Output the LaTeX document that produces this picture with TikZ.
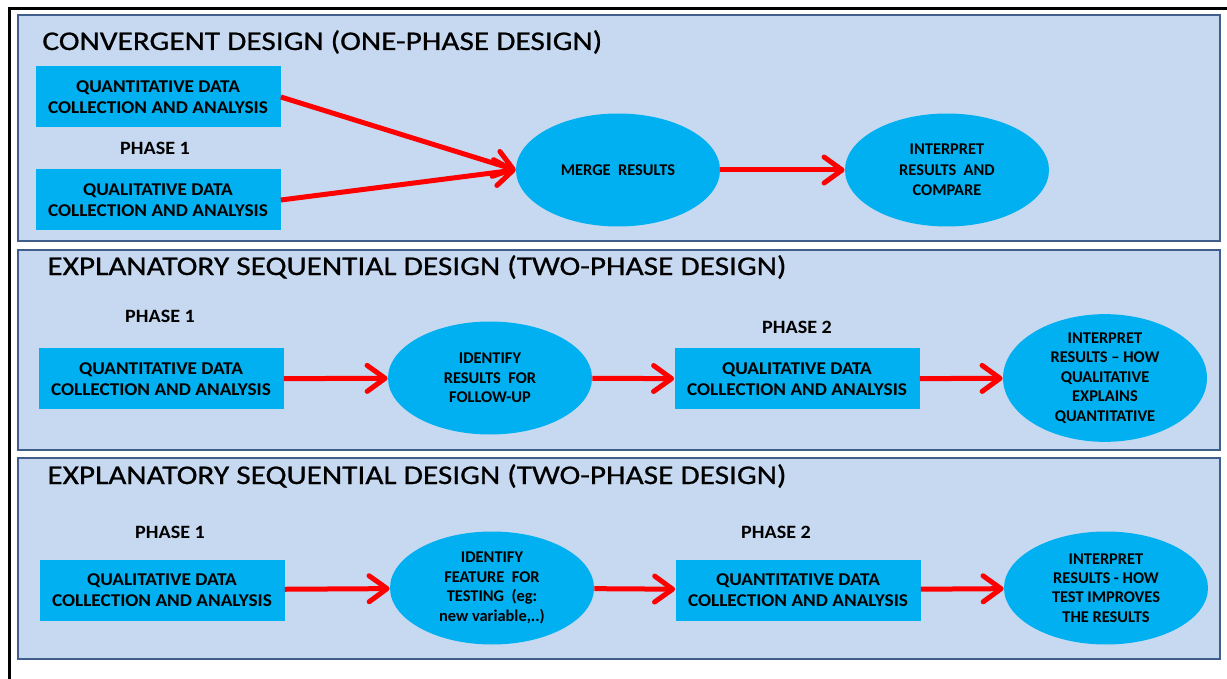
\documentclass[tikz,border=0pt]{standalone}
\usepackage{fontspec}
\setmainfont{Carlito}
\newfontfamily\titlefont[FakeStretch=1.16,FakeBold=0.7]{Carlito}
\newfontfamily\boxfont[FakeStretch=1.07]{Carlito}
\usetikzlibrary{arrows.meta,shapes.geometric}
\definecolor{panelfill}{HTML}{C6D9F1}
\definecolor{paneldraw}{HTML}{3F5F8A}
\definecolor{boxfill}{HTML}{00B0F0}
\begin{document}
\begin{tikzpicture}[x=0.5pt,y=-0.5pt,
                    mpanel/.style = {draw = paneldraw,
                                     fill = panelfill,
                                     line width = 1.4pt},
                    mtitle/.style = {anchor = west,
                                     inner sep = 0pt,
                                     font = \titlefont\fontsize{13.5}{16}\selectfont},
                    mphase/.style = {inner sep = 0pt,
                                     font = \boxfont\bfseries\fontsize{9.4}{11}\selectfont},
                    mbox/.style = {shape = rectangle,
                                   fill = boxfill,
                                   minimum width = 122.5pt,
                                   minimum height = 30.5pt,
                                   align = center,
                                   font = \boxfont\bfseries\fontsize{9}{10.5}\selectfont},
                    mellipse/.style = {shape = ellipse,
                                       fill = boxfill,
                                       minimum width = 102pt,
                                       minimum height = 56.5pt,
                                       inner sep = 0pt,
                                       align = center,
                                       font = \bfseries\fontsize{8.2}{9.7}\selectfont},
                    marrow/.style = {draw = red,
                                     line width = 2.5pt,
                                     -{Straight Barb[length=9pt,width=13pt,round]}}]
    \useasboundingbox (0,0) rectangle (1227,679);
    \draw[line width=1.5pt] (9,679) -- (9,9) -- (1227,9);
    % convergent design
    \draw[mpanel] (18,15) rectangle (1220,241);
    \node[mtitle] (t1) at (42,42) {CONVERGENT DESIGN (ONE-PHASE DESIGN)};
    \node[mbox] (qn1) at (158,97) {QUANTITATIVE DATA\\COLLECTION AND ANALYSIS};
    \node[mphase] (p1) at (155,148) {PHASE 1};
    \node[mbox] (ql1) at (158,200) {QUALITATIVE DATA\\COLLECTION AND ANALYSIS};
    \node[mellipse] (merge) at (618,170) {MERGE~ RESULTS};
    \node[mellipse, font = \bfseries\fontsize{8.2}{10.2}\selectfont] (int1) at (947,170) {INTERPRET\\RESULTS~ AND\\COMPARE};
    \path[marrow] (qn1.east) -- (merge.west);
    \path[marrow] (ql1.east) -- (merge.west);
    \path[marrow] (merge) -- (int1);
    % explanatory sequential design
    \draw[mpanel] (18,250) rectangle (1220,450);
    \node[mtitle] (t2) at (47,267) {EXPLANATORY SEQUENTIAL DESIGN (TWO-PHASE DESIGN)};
    \node[mphase] (p21) at (160,316) {PHASE 1};
    \node[mbox] (qn2) at (161,379) {QUANTITATIVE DATA\\COLLECTION AND ANALYSIS};
    \node[mellipse] (id2) at (490,378) {IDENTIFY\\RESULTS~ FOR\\FOLLOW-UP};
    \node[mphase] (p22) at (797,327) {PHASE 2};
    \node[mbox] (ql2) at (797,379) {QUALITATIVE DATA\\COLLECTION AND ANALYSIS};
    \node[mellipse] (int2) at (1105,378) {INTERPRET\\RESULTS -- HOW\\QUALITATIVE\\EXPLAINS\\QUANTITATIVE};
    \path[marrow] (qn2) -- (id2);
    \path[marrow] (id2) -- (ql2);
    \path[marrow] (ql2) -- (int2);
    % exploratory variant
    \draw[mpanel] (18,458) rectangle (1220,659);
    \node[mtitle] (t3) at (47,476) {EXPLANATORY SEQUENTIAL DESIGN (TWO-PHASE DESIGN)};
    \node[mphase] (p31) at (170,532) {PHASE 1};
    \node[mbox] (ql3) at (162,590) {QUALITATIVE DATA\\COLLECTION AND ANALYSIS};
    \node[mellipse] (id3) at (492,588) {IDENTIFY\\FEATURE~ FOR\\TESTING~ (eg:\\new variable,..)};
    \node[mphase] (p32) at (776,532) {PHASE 2};
    \node[mbox] (qn3) at (798,590) {QUANTITATIVE DATA\\COLLECTION AND ANALYSIS};
    \node[mellipse] (int3) at (1106,588) {INTERPRET\\RESULTS - HOW\\TEST IMPROVES\\THE RESULTS};
    \path[marrow] (ql3) -- (id3);
    \path[marrow] (id3) -- (qn3);
    \path[marrow] (qn3) -- (int3);
\end{tikzpicture}
\end{document}
